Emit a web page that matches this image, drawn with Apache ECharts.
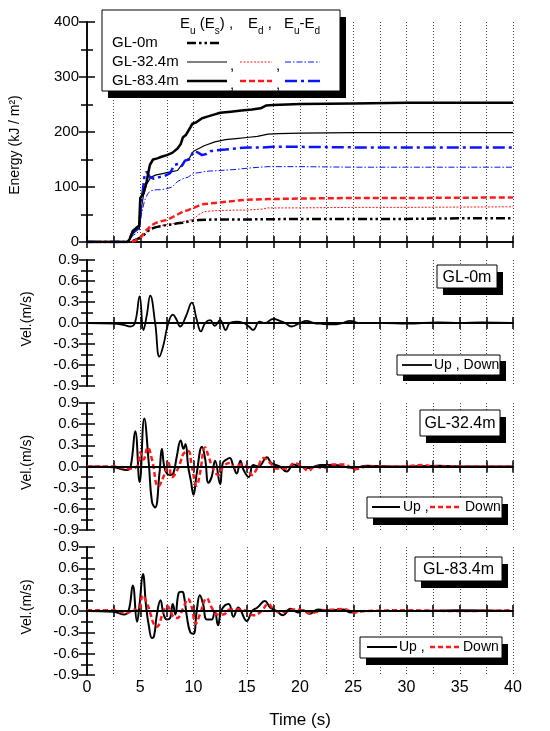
<!DOCTYPE html>
<html>
<head>
<meta charset="utf-8">
<script src="https://cdn.jsdelivr.net/npm/echarts@6/dist/echarts.min.js"></script>
<style>
html, body { margin: 0; padding: 0; background: #fff; }
#chart { width: 550px; height: 731px; }
</style>
</head>
<body>
<div id="chart"></div>
<script>
// ---- energy curves (kJ/m2) ----
const tE0 = [0, 3.5, 4.2, 4.8, 5.2, 5.6, 6.0, 6.5, 7.0, 7.5, 8.0, 8.5, 9.0, 9.5, 10.0, 10.5, 12, 15, 20, 25, 30, 35, 40]
const eu0 = [0, 0, 1, 6, 10, 18, 24, 27, 29, 31, 32, 34, 35, 37, 39, 40, 41, 41, 42, 42, 42, 43, 43]

const tEu32 = [0, 3.8, 4.0, 4.3, 4.6, 4.9, 5.1, 5.3, 5.6, 6.0, 6.5, 7.0, 7.5, 8.0, 8.5, 8.8, 9.2, 9.6, 10.0, 10.5, 11.0, 12.0, 13.0, 14.0, 15.0, 16.0, 17.0, 18, 20, 25, 30, 40]
const eu32 = [0, 0, 5, 15, 20, 25, 60, 85, 105, 118, 122, 124, 126, 128, 130, 138, 148, 152, 165, 170, 175, 182, 186, 188, 190, 192, 196, 197, 198, 199, 199, 199]

const tEu83 = [0, 3.8, 4.0, 4.3, 4.6, 4.9, 5.0, 5.3, 5.6, 5.9, 6.2, 6.6, 7.0, 7.5, 8.0, 8.5, 8.8, 9.0, 9.3, 9.6, 9.9, 10.3, 10.8, 11.3, 12.0, 12.5, 13.5, 14.5, 15.5, 16.3, 16.8, 17.5, 20, 25, 30, 40]
const eu83 = [0, 0, 5, 20, 25, 30, 80, 88, 110, 140, 150, 152, 155, 158, 162, 170, 178, 190, 195, 205, 215, 218, 225, 228, 232, 235, 237, 239, 241, 243, 248, 249, 251, 252, 253, 253]

const tEd32 = [0, 4.0, 4.5, 5.0, 5.5, 6.0, 6.5, 7.0, 8.0, 9.0, 9.5, 10.0, 10.5, 11.0, 12.0, 14.0, 15.0, 16.5, 17.0, 20, 25, 30, 40]
const ed32 = [0, 0, 2, 5, 15, 25, 28, 30, 33, 37, 39, 42, 50, 55, 57, 58, 58, 60, 62, 62, 63, 63, 64]

const tEd83 = [0, 4.0, 4.5, 5.0, 5.5, 6.0, 6.5, 7.0, 7.5, 8.0, 8.5, 9.0, 9.5, 10.0, 10.5, 11.0, 12.0, 13.0, 14.0, 15.0, 17.0, 20, 25, 30, 40]
const ed83 = [0, 0, 2, 8, 20, 30, 35, 38, 40, 45, 50, 55, 58, 62, 66, 69, 71, 73, 75, 77, 78, 79, 80, 80, 81]

const tDiff32 = [0, 3.8, 4.0, 4.3, 4.6, 4.9, 5.1, 5.4, 5.7, 6.0, 6.5, 7.0, 7.5, 8.0, 8.5, 9.0, 9.5, 10.0, 10.5, 11.0, 11.5, 12.5, 14.0, 15.5, 17.0, 20, 25, 30, 40]
const diff32 = [0, 0, 3, 12, 15, 20, 50, 75, 88, 93, 95, 95, 97, 100, 110, 115, 118, 125, 126, 128, 129, 130, 132, 135, 137, 137, 136, 136, 136]

const tDiff83 = [0, 3.8, 4.0, 4.3, 4.6, 4.9, 5.1, 5.4, 5.6, 5.9, 6.3, 6.8, 7.3, 7.8, 8.2, 8.6, 8.9, 9.2, 9.6, 10.0, 10.4, 10.8, 11.2, 11.6, 12.2, 13.0, 14.0, 15.0, 16.5, 17.5, 20, 25, 30, 40]
const diff83 = [0, 0, 5, 18, 22, 28, 70, 120, 128, 118, 115, 118, 120, 125, 140, 142, 138, 148, 150, 165, 163, 158, 160, 165, 167, 168, 170, 172, 172, 173, 173, 172, 172, 172]

// ---- velocity records (m/s) ----
const tV0 = [0, 2.5, 3.5, 4.06, 4.5, 4.94, 5.3, 5.6, 5.94, 6.4, 6.8, 7.2, 7.6, 8.06, 8.4, 8.75, 9.3, 9.84, 10.3, 10.7, 11.1, 11.56, 12.0, 12.5, 13.03, 13.4, 14.0, 14.7, 15.2, 15.6, 16.2, 16.7, 17.5, 18.1, 18.6, 19.2, 20.0, 20.6, 21.3, 21.9, 23.1, 24.0, 24.7, 25.5, 26.25, 28, 30, 33, 35, 37, 40]
const up0 = [0, -0.01, -0.03, -0.05, 0.0, 0.38, -0.1, 0.1, 0.39, 0.0, -0.48, -0.3, -0.02, 0.12, 0.05, -0.05, 0.1, 0.29, 0.05, -0.12, 0.0, 0.04, -0.04, 0.04, -0.1, 0.0, 0.02, 0.0, -0.05, -0.1, 0.02, 0.0, 0.06, 0.03, 0.0, -0.05, 0.0, 0.03, 0.0, -0.01, -0.02, 0.0, 0.03, 0.0, 0.0, 0.0, -0.01, 0.01, 0.0, 0.01, 0.0]

const tU32 = [0, 2.5, 3.75, 4.1, 4.53, 4.94, 5.375, 5.8, 6.1, 6.4, 6.8, 7.03, 7.25, 7.5, 7.8, 8.1, 8.44, 8.8, 9.06, 9.25, 9.5, 9.75, 10.0, 10.3, 10.8, 11.1, 11.4, 11.7, 12.03, 12.5, 12.75, 13.1, 13.4, 13.75, 14.06, 14.4, 14.7, 15.2, 15.6, 16.1, 16.9, 17.3, 18.1, 18.75, 19.4, 20.0, 20.9, 21.9, 23.1, 25.0, 26.25, 29.4, 33, 36, 40]
const up32 = [0, -0.01, -0.05, 0.0, 0.5, -0.22, 0.68, 0.05, -0.5, -0.58, -0.1, 0.25, 0.0, -0.1, -0.12, -0.1, 0.15, 0.37, 0.25, 0.32, 0.0, -0.2, -0.4, -0.1, 0.28, 0.1, -0.23, -0.15, 0.08, -0.25, 0.05, 0.1, 0.12, 0.0, -0.1, 0.08, -0.05, -0.15, 0.02, 0.0, 0.13, 0.05, 0.0, -0.07, 0.03, 0.0, -0.02, 0.02, 0.02, -0.02, 0.01, 0.0, 0.01, 0.0, 0.0]

const tD32 = [0, 2.5, 3.9, 4.7, 5.0, 5.3, 5.7, 6.1, 6.7, 7.3, 7.65, 7.97, 8.3, 8.75, 9.06, 9.5, 9.84, 10.3, 10.6, 11.1, 11.4, 11.9, 12.34, 12.8, 13.4, 13.9, 14.4, 15.0, 15.5, 16.0, 16.6, 17.2, 17.8, 18.75, 19.5, 20.2, 20.8, 21.4, 22.2, 23.1, 24.1, 25.2, 26.25, 29.4, 31.6, 32.5, 36, 40]
const down32 = [0, 0, -0.03, 0.0, 0.2, 0.1, 0.27, 0.1, -0.28, -0.1, 0.05, -0.15, -0.1, 0.05, 0.18, 0.22, 0.0, -0.27, -0.1, 0.27, 0.15, -0.05, -0.12, 0.0, 0.05, -0.02, 0.03, 0.0, -0.12, -0.02, 0.12, 0.05, -0.03, -0.03, 0.05, 0.0, -0.06, 0.0, -0.02, 0.03, 0.03, -0.04, 0.0, 0.0, 0.02, 0.0, 0.0, 0.0]

const tU83 = [0, 2.5, 3.44, 3.9, 4.3, 4.7, 4.94, 5.25, 5.56, 5.8, 6.1, 6.3, 6.56, 6.9, 7.2, 7.5, 7.8, 8.06, 8.3, 8.6, 8.9, 9.06, 9.4, 9.7, 10.0, 10.3, 10.6, 10.9, 11.25, 11.7, 12.0, 12.3, 12.65, 13.3, 13.75, 14.2, 15.0, 15.5, 16.0, 16.7, 17.2, 17.8, 18.4, 19.1, 19.8, 20.3, 20.9, 21.7, 22.8, 24.1, 24.7, 25.6, 30, 35, 40]
const up83 = [0, -0.01, -0.05, 0.0, 0.36, -0.15, 0.1, 0.52, 0.05, -0.2, -0.38, -0.35, -0.05, 0.15, -0.05, -0.12, -0.1, 0.1, -0.05, 0.25, 0.27, 0.25, -0.1, -0.3, -0.32, 0.0, 0.22, 0.1, -0.12, -0.12, 0.0, -0.2, 0.02, 0.1, -0.08, 0.05, -0.14, 0.0, 0.05, 0.14, 0.05, 0.0, -0.06, 0.03, -0.02, 0.01, -0.04, 0.02, 0.01, 0.02, -0.02, 0.0, 0.0, 0.01, 0.0]

const tD83 = [0, 2.5, 3.75, 4.4, 4.8, 5.25, 5.6, 6.56, 7.2, 7.5, 8.1, 8.44, 9.06, 9.47, 9.84, 10.2, 10.6, 11.25, 11.7, 12.2, 12.8, 13.4, 14.4, 15.0, 15.6, 16.4, 17.0, 17.5, 18.1, 19.4, 20.2, 20.9, 21.9, 23.1, 24.1, 25.0, 26.25, 30, 35, 40]
const down83 = [0.01, 0.01, -0.03, 0.02, 0.0, 0.22, 0.12, -0.22, 0.0, 0.07, -0.08, -0.1, 0.05, 0.17, 0.05, -0.18, -0.05, 0.18, 0.05, -0.05, -0.05, 0.02, 0.02, 0.0, -0.06, 0.0, 0.1, 0.03, -0.02, 0.02, 0.01, -0.03, 0.0, 0.02, 0.03, -0.02, 0.0, 0.01, 0.0, 0.01]

const panelNames = ['GL-0m', 'GL-32.4m', 'GL-83.4m']

const FONT = '"Liberation Sans", Arial, sans-serif'
const RED = '#ff1a1a'
const BLUE = '#0a14ff'

const zip = (t, v) => t.map((x, i) => [x, v[i]])

const grids = [
	{ left: 87, right: 37, top: 22, height: 220 },
	{ left: 87, right: 37, top: 260, height: 126 },
	{ left: 87, right: 37, top: 403, height: 127 },
	{ left: 87, right: 37, top: 547, height: 128 },
]

const axisLine = { show: true, lineStyle: { color: '#000', width: 1.5 } }

const xAxes = []
const yAxes = []
grids.forEach((g, i) => {
	const last = i === grids.length - 1
	xAxes.push({
		type: 'value', gridIndex: i, min: 0, max: 40, interval: 2.5,
		position: 'bottom',
		axisLine,
		axisTick: { inside: true, length: 6, lineStyle: { color: '#000', width: 1.5 } },
		axisLabel: {
			show: last, color: '#000', fontSize: 16, fontFamily: FONT, margin: 5,
			formatter: v => (v % 5 === 0 ? String(v) : ''),
		},
		splitLine: { show: true, lineStyle: { color: '#444', type: [1, 2], width: 1 } },
		name: last ? 'Time (s)' : '',
		nameLocation: 'middle', nameGap: 37,
		nameTextStyle: { color: '#000', fontSize: 17, fontFamily: FONT },
	})
	xAxes.push({
		type: 'value', gridIndex: i, min: 0, max: 40, interval: 2.5,
		position: 'top',
		axisLine,
		axisTick: { inside: true, length: 6, lineStyle: { color: '#000', width: 1.5 } },
		axisLabel: { show: false },
		splitLine: { show: false },
	})
	const energy = i === 0
	const yBase = energy
		? { min: 0, max: 400, interval: 100 }
		: { min: -0.9, max: 0.9, interval: 0.3 }
	yAxes.push(Object.assign({
		type: 'value', gridIndex: i, position: 'left',
		axisLine,
		axisTick: { inside: true, length: 8, lineStyle: { color: '#000', width: 1.5 } },
		minorTick: { show: true, splitNumber: 2, length: 6, lineStyle: { color: '#000', width: 1.5 } },
		axisLabel: {
			color: '#000', fontSize: 15, fontFamily: FONT, margin: 8,
			formatter: v => (energy ? String(v) : v.toFixed(1)),
		},
		splitLine: { show: false },
	}, yBase))
	yAxes.push(Object.assign({
		type: 'value', gridIndex: i, position: 'right',
		axisLine,
		axisTick: { inside: true, length: 8, lineStyle: { color: '#000', width: 1.5 } },
		minorTick: { show: true, splitNumber: 2, length: 6, lineStyle: { color: '#000', width: 1.5 } },
		axisLabel: { show: false },
		splitLine: { show: false },
	}, yBase))
})

const lineSeries = (grid, data, color, width, type, extra) => Object.assign({
	type: 'line', xAxisIndex: grid * 2, yAxisIndex: grid * 2,
	data, showSymbol: false, symbol: 'none', animation: false,
	lineStyle: { color, width, type },
}, extra || {})

const zeroLine = {
	silent: true, symbol: 'none', animation: false,
	label: { show: false },
	lineStyle: { color: '#000', width: 1.8, type: 'solid' },
	data: [{ yAxis: 0 }],
}

const series = [
	lineSeries(0, zip(tEd32, ed32), RED, 1, [2, 1.5]),
	lineSeries(0, zip(tDiff32, diff32), BLUE, 1, [6, 2, 1.5, 2]),
	lineSeries(0, zip(tEu32, eu32), '#000', 1.2, 'solid'),
	lineSeries(0, zip(tE0, eu0), '#000', 2.5, [9, 3, 2.5, 3, 2.5, 3]),
	lineSeries(0, zip(tEd83, ed83), RED, 2.5, [6, 3]),
	lineSeries(0, zip(tDiff83, diff83), BLUE, 2.5, [12, 4, 3, 4]),
	lineSeries(0, zip(tEu83, eu83), '#000', 2.5, 'solid'),

	lineSeries(1, zip(tV0, up0), '#000', 1.8, 'solid', { smooth: 0.45, markLine: zeroLine }),
	lineSeries(2, zip(tU32, up32), '#000', 2, 'solid', { smooth: 0.45, markLine: zeroLine }),
	lineSeries(2, zip(tD32, down32), RED, 2.5, [5, 3], { smooth: 0.45 }),
	lineSeries(3, zip(tU83, up83), '#000', 2, 'solid', { smooth: 0.45, markLine: zeroLine }),
	lineSeries(3, zip(tD83, down83), RED, 2.5, [5, 3], { smooth: 0.45 }),
]

// ---- boxes, legends, titles ----
const graphic = []
const Z = 100

function shadowBox(x, y, w, h, dx, dy) {
	graphic.push({ type: 'rect', z: Z, shape: { x: x + dx, y: y + dy, width: w, height: h }, style: { fill: '#000' } })
	graphic.push({ type: 'rect', z: Z + 1, shape: { x, y, width: w, height: h }, style: { fill: '#fff', stroke: '#000', lineWidth: 1 } })
}
function text(x, y, str, size) {
	graphic.push({
		type: 'text', z: Z + 2, x, y,
		style: { text: str, fill: '#000', font: size + 'px ' + FONT, verticalAlign: 'middle' },
	})
}
function sample(x1, x2, y, color, width, dash) {
	graphic.push({
		type: 'line', z: Z + 2,
		shape: { x1, y1: y, x2, y2: y },
		style: { stroke: color, lineWidth: width, lineDash: dash || null },
	})
}
function subText(x, y, str) {
	graphic.push({
		type: 'text', z: Z + 2, x, y,
		style: {
			text: str, fill: '#000', fontFamily: FONT, verticalAlign: 'top',
			rich: {
				n: { fontSize: 15, lineHeight: 16, verticalAlign: 'top', fontFamily: FONT },
				s: { fontSize: 10, lineHeight: 10, verticalAlign: 'top', padding: [10, 0, 0, 0], fontFamily: FONT },
			},
		},
	})
}

// energy legend
shadowBox(102, 10, 238, 81, 6, 7)
subText(180, 16, '{n|E}{s|u}{n| (E}{s|s}{n|) ,}')
subText(248, 16, '{n|E}{s|d}{n| ,}')
subText(284, 16, '{n|E}{s|u}{n|-E}{s|d}')
text(112, 43, 'GL-0m', 15)
text(112, 62, 'GL-32.4m', 15)
text(112, 81, 'GL-83.4m', 15)
sample(187, 222, 43, '#000', 2.5, [9, 3, 2.5, 3, 2.5, 3])
sample(187, 227, 62, '#000', 1.2)
sample(240, 272, 62, RED, 1, [2, 1.5])
sample(285, 320, 62, BLUE, 1, [6, 2, 1.5, 2])
sample(187, 227, 81, '#000', 2.5)
sample(240, 272, 81, RED, 2.5, [6, 3])
sample(285, 320, 81, BLUE, 2.5, [12, 4, 3, 4])
text(230, 66, ',', 15)
text(276, 66, ',', 15)
text(230, 85, ',', 15)
text(276, 85, ',', 15)

// velocity panel labels
const labelBoxes = [[437, 265, 60, 23], [420, 410, 80, 26], [415, 557, 87, 24]]
labelBoxes.forEach((b, i) => {
	shadowBox(b[0], b[1], b[2], b[3], 6, 7)
	graphic.push({
		type: 'text', z: Z + 2, x: b[0] + b[2] / 2, y: b[1] + b[3] / 2 + 1,
		style: { text: panelNames[i], fill: '#000', font: '16px ' + FONT, align: 'center', verticalAlign: 'middle' },
	})
})

// up / down legends
shadowBox(397, 355, 103, 20, 6, 6)
sample(402, 432, 365, '#000', 1.8)
text(434, 365, 'Up , Down', 14)

shadowBox(367, 497, 135, 21, 6, 7)
sample(372, 400, 507, '#000', 2)
text(403, 507, 'Up ,', 14)
sample(430, 462, 507, RED, 2.5, [5, 3])
text(465, 507, 'Down', 14)

shadowBox(360, 637, 142, 21, 6, 7)
sample(367, 397, 647, '#000', 2)
text(399, 647, 'Up ,', 14)
sample(430, 460, 647, RED, 2.5, [5, 3])
text(463, 647, 'Down', 14)

// y axis titles
graphic.push({
	type: 'text', z: Z + 2, x: 15, y: 145, rotation: Math.PI / 2,
	style: { text: 'Energy (kJ / m²)', fill: '#000', font: '14px ' + FONT, align: 'center', verticalAlign: 'middle' },
})
grids.slice(1).forEach(g => {
	graphic.push({
		type: 'text', z: Z + 2, x: 27, y: g.top + g.height / 2 - 4, rotation: Math.PI / 2,
		style: { text: 'Vel.(m/s)', fill: '#000', font: '14px ' + FONT, align: 'center', verticalAlign: 'middle' },
	})
})

const chart = echarts.init(document.getElementById('chart'), null, { renderer: 'canvas' })
chart.setOption({
	backgroundColor: '#fff',
	animation: false,
	textStyle: { fontFamily: FONT },
	grid: grids,
	xAxis: xAxes,
	yAxis: yAxes,
	series,
	graphic,
})
</script>
</body>
</html>
